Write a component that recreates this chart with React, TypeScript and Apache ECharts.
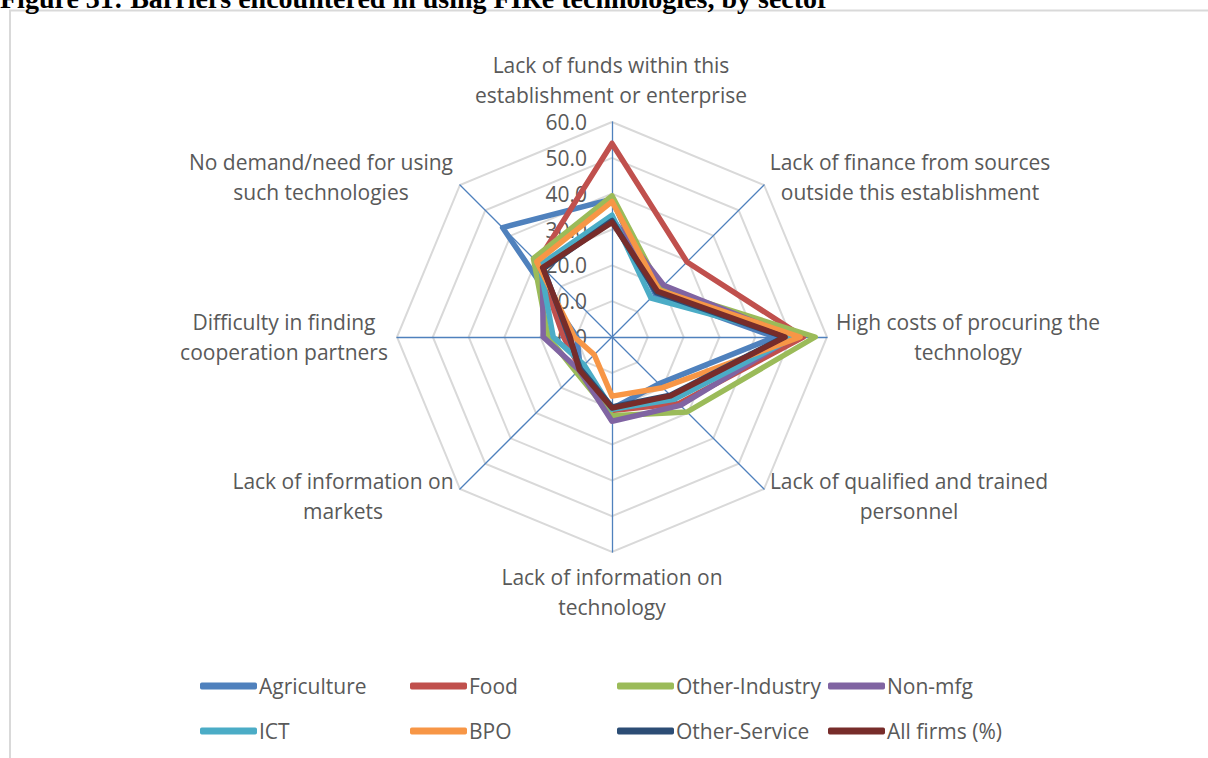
import React, { useEffect, useRef } from "react";
import * as echarts from "echarts";

// Indicators, clockwise from the top as in the picture
const indicatorNames = [
  "Lack of funds within this\nestablishment or enterprise",
  "Lack of finance from sources\noutside this establishment",
  "High costs of procuring the\ntechnology",
  "Lack of qualified and trained\npersonnel",
  "Lack of information on\ntechnology",
  "Lack of information on\nmarkets",
  "Difficulty in finding\ncooperation partners",
  "No demand/need for using\nsuch technologies",
];

const sectors = [
  "Agriculture",
  "Food",
  "Other-Industry",
  "Non-mfg",
  "ICT",
  "BPO",
  "Other-Service",
  "All firms (%)",
];

// values in indicator order (clockwise from top)
const agriculture = [38.5, 17.0, 45.5, 18.5, 20.0, 12.5, 9.8, 43.2];
const food = [54.0, 29.6, 53.4, 26.3, 20.5, 12.5, 13.5, 29.5];
const otherIndustry = [39.4, 19.2, 56.7, 29.6, 22.0, 14.0, 17.8, 31.0];
const nonMfg = [33.0, 20.4, 50.5, 27.0, 23.5, 13.0, 19.2, 27.5];
const ict = [34.0, 15.4, 51.0, 24.6, 20.2, 11.0, 16.4, 28.4];
const bpo = [37.8, 18.5, 52.5, 20.0, 16.5, 7.0, 10.5, 29.7];
const otherService = [32.5, 17.5, 48.0, 23.0, 19.5, 12.5, 12.0, 27.0];
const allFirms = [32.0, 18.0, 48.3, 23.2, 19.8, 12.9, 11.7, 27.4];

const seriesValues = [agriculture, food, otherIndustry, nonMfg, ict, bpo, otherService, allFirms];

const axisMin = 0;
const axisMax = 60;
const tickStep = 10;

const title = "Figure 31: Barriers encountered in using FIRe technologies, by sector";

const colors = ["#4F81BD", "#C0504D", "#9BBB59", "#8064A2", "#4BACC6", "#F79646", "#2C4D75", "#772C2A"];
const FONT = "'Open Sans', 'Noto Sans', sans-serif";
const TEXT_COLOR = "#595959";

// ECharts places indicators counter-clockwise; the picture runs clockwise.
const order = [0, 7, 6, 5, 4, 3, 2, 1];

// label block centres (layout only)
const namePos: [number, number][] = [
  [611, 80],
  [910, 177],
  [968, 337],
  [909, 496],
  [612, 592],
  [343, 496],
  [284, 337],
  [321, 177],
];

const legendCols = [200, 410, 617, 828];
const legendRows = [686, 731];

export default function App() {
  const ref = useRef<HTMLDivElement>(null);

  useEffect(() => {
    if (!ref.current) return;
    const chart = echarts.init(ref.current, undefined, { renderer: "svg" });

    const indicator = order.map((i, k) => ({
      name: indicatorNames[i],
      min: axisMin,
      max: axisMax,
      axisLabel:
        k === 0
          ? {
              show: true,
              color: TEXT_COLOR,
              fontSize: 21,
              fontFamily: FONT,
              margin: 25,
              formatter: (v: number) => Number(v).toFixed(1),
            }
          : { show: false },
    }));

    const series = sectors.map((name, s) => ({
      type: "radar",
      name,
      symbol: "none",
      z: 2 + s,
      itemStyle: { color: colors[s] },
      lineStyle: { color: colors[s], width: 5.5, join: "round", cap: "round" },
      data: [{ name, value: order.map((i) => seriesValues[s][i]) }],
    }));

    const legends = sectors.map((name, s) => ({
      data: [name],
      left: legendCols[s % 4],
      top: legendRows[Math.floor(s / 4)] - 14,
      padding: 0,
      icon: "roundRect",
      itemWidth: 57,
      itemHeight: 7,
      selectedMode: false,
      textStyle: { color: TEXT_COLOR, fontSize: 21, fontFamily: FONT, lineHeight: 28, padding: [0, 0, 0, -3] },
    }));

    const graphic: any[] = [
      {
        type: "rect",
        silent: true,
        z: 0,
        shape: { x: 10, y: 10.5, width: 1400, height: 1000 },
        style: { fill: "none", stroke: "#D9D9D9", lineWidth: 2 },
      },
      {
        type: "text",
        silent: true,
        x: 0,
        y: -2,
        style: {
          text: title,
          fill: "#000",
          font: "bold 28px 'Liberation Serif', 'Times New Roman', serif",
          align: "left",
          verticalAlign: "middle",
          textAlign: "left",
          textVerticalAlign: "middle",
        },
      },
      ...indicatorNames.map((t, i) => ({
        type: "text",
        silent: true,
        x: namePos[i][0],
        y: namePos[i][1],
        style: {
          text: t,
          fill: TEXT_COLOR,
          fontSize: 21,
          fontFamily: FONT,
          lineHeight: 30,
          align: "center",
          verticalAlign: "middle",
          textAlign: "center",
          textVerticalAlign: "middle",
        },
      })),
    ];

    chart.setOption({
      animation: false,
      backgroundColor: "#ffffff",
      radar: {
        center: [612, 337],
        radius: 215,
        startAngle: 90,
        splitNumber: (axisMax - axisMin) / tickStep,
        shape: "polygon",
        indicator,
        axisName: { show: false },
        axisLine: { show: true, lineStyle: { color: "#4F81BD", width: 1.3 } },
        splitLine: { show: true, lineStyle: { color: "#D9D9D9", width: 2 } },
        splitArea: { show: false },
        axisTick: { show: false },
        axisLabel: { show: false },
      },
      legend: legends,
      graphic,
      series,
    });

    return () => chart.dispose();
  }, []);

  return (
    <div
      ref={ref}
      style={{ position: "absolute", left: 0, top: 0, width: 1208, height: 758 }}
    />
  );
}
